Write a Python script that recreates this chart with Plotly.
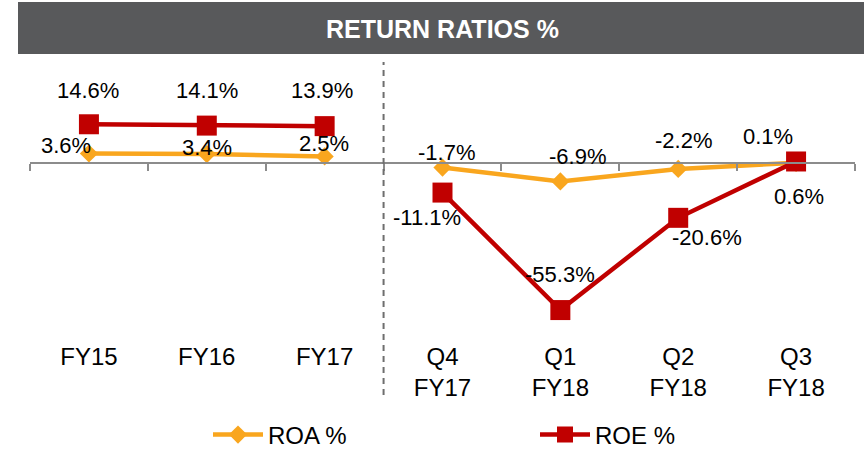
# Return ratios chart: ROA % and ROE %
import plotly.graph_objects as go

# Data
categories = ["FY15", "FY16", "FY17", "Q4<br>FY17", "Q1<br>FY18", "Q2<br>FY18", "Q3<br>FY18"]
roa = [3.6, 3.4, 2.5, -1.7, -6.9, -2.2, 0.1]
roe = [14.6, 14.1, 13.9, -11.1, -55.3, -20.6, 0.6]
nAnnual = 3  # FY15..FY17, then quarters

# Label nudges (pixels) so the labels sit where they were placed by hand
roaDx = [-23, 0, -1, 4, 17, 5, -28]
roaDy = [8, 7, 13, 15, 25, 28, 26]
roeDx = [-1, 0, -3, -16, 0, 29, 3]
roeDy = [34, 35, 36, -25, 36, -20, -35]

# Style
roaColor = "#F9A61E"
roeColor = "#C00000"
axisColor = "#8C8C8C"
titleBg = "#58595B"
fontName = "Liberation Sans, Arial, sans-serif"
wide, tall = 864, 449
mL, mR, mT, mB = 30, 9, 65, 119
yMin, yMax = -62.8, 36.9

plotW = wide - mL - mR
plotH = tall - mT - mB

def px2x(px):
    return (px - mL) / plotW

def px2y(py):
    return (tall - mB - py) / plotH

fig = go.Figure()
# annual and quarterly points are drawn as separate segments (not joined across the divider)
for name, vals, color, sym, size in [("ROA %", roa, roaColor, "diamond", 14),
                                     ("ROE %", roe, roeColor, "square", 20)]:
    for part, (a, b) in enumerate([(0, nAnnual), (nAnnual, len(categories))]):
        fig.add_trace(go.Scatter(x=categories[a:b], y=vals[a:b], name=name, mode="lines+markers",
                                 legendgroup=name, showlegend=(part == 0),
                                 line=dict(color=color, width=4.5),
                                 marker=dict(symbol=sym, size=size, color=color)))

# Data labels
for vals, dxs, dys in [(roa, roaDx, roaDy), (roe, roeDx, roeDy)]:
    for c, v, dx, dy in zip(categories, vals, dxs, dys):
        fig.add_annotation(x=c, y=v, text="{:.1f}%".format(v), showarrow=False,
                           xshift=dx, yshift=dy, xanchor="center", yanchor="middle",
                           font=dict(size=22, color="black", family=fontName))

# Title bar
fig.add_shape(type="rect", xref="paper", yref="paper",
              x0=px2x(18), x1=px2x(866), y0=px2y(54), y1=px2y(2),
              fillcolor=titleBg, line=dict(width=0), layer="below")
fig.add_annotation(xref="paper", yref="paper", x=px2x(442), y=px2y(29),
                   xanchor="center", yanchor="middle",
                   text="<b>RETURN RATIOS %</b>", showarrow=False,
                   font=dict(size=25, color="white", family=fontName))

# Divider between annual and quarterly figures
fig.add_shape(type="line", xref="x", yref="paper",
              x0=nAnnual - 0.5, x1=nAnnual - 0.5, y0=px2y(395), y1=px2y(62),
              line=dict(color="#6E6E6E", width=2, dash="6px,5px"))

zeroPos = (0 - yMin) / (yMax - yMin)

fig.update_layout(
    width=wide, height=tall,
    margin=dict(l=mL, r=mR, t=mT, b=mB, autoexpand=False),
    plot_bgcolor="white", paper_bgcolor="white",
    font=dict(family=fontName, color="black"),
    hovermode=False,
    showlegend=True,
    legend=dict(orientation="h", x=px2x(208), xanchor="left", y=px2y(435), yanchor="middle",
                entrywidth=262, entrywidthmode="pixels", bgcolor="rgba(0,0,0,0)",
                font=dict(size=24, family=fontName), itemwidth=50),
)
fig.update_xaxes(type="category", range=[-0.5, len(categories) - 0.5],
                 anchor="free", position=zeroPos,
                 showline=True, linecolor=axisColor, linewidth=1.5,
                 ticks="outside", tickson="boundaries", ticklen=7, tickcolor=axisColor, tickwidth=1.5,
                 showgrid=False, zeroline=False,
                 tickfont=dict(size=24, color="black", family=fontName),
                 ticklabelstandoff=172)
fig.update_yaxes(range=[yMin, yMax], visible=False, showgrid=False, zeroline=False)

fig.write_html("out.html", config={"displayModeBar": False},
               post_script="document.body.style.margin='0';")
